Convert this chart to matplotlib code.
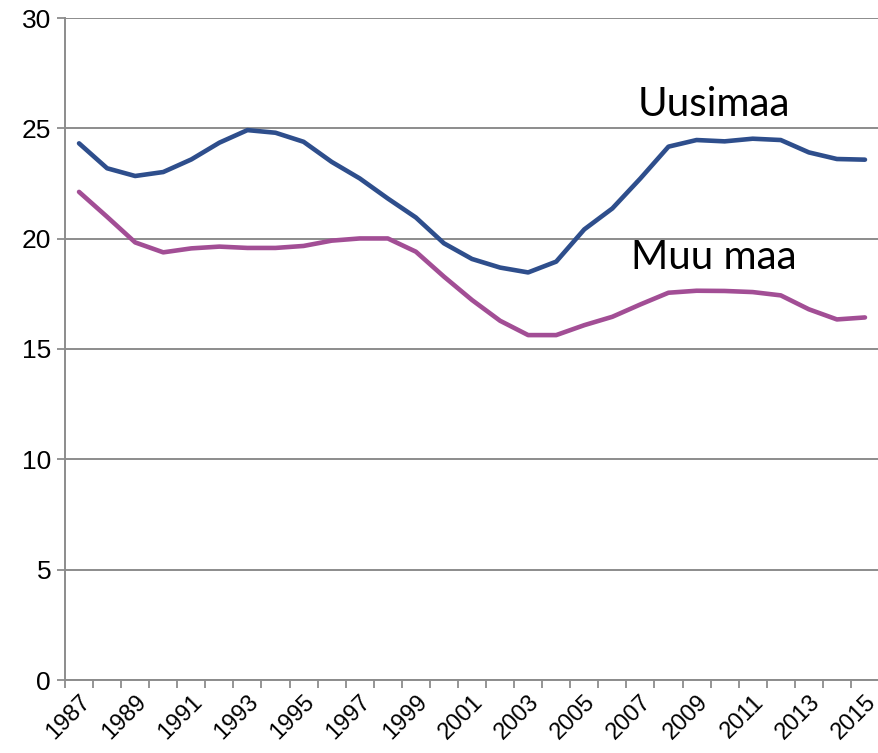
import matplotlib.pyplot as plt
import numpy as np

# ── Data ─────────────────────────────────────────────────────────
years = list(range(1987, 2016))
uusimaa = [24.32, 23.19, 22.84, 23.02, 23.59, 24.35, 24.92, 24.80, 24.39, 23.48,
           22.73, 21.82, 20.96, 19.79, 19.08, 18.69, 18.47, 18.96, 20.42, 21.37,
           22.73, 24.17, 24.47, 24.41, 24.53, 24.47, 23.91, 23.61, 23.58]
muu_maa = [22.12, 20.99, 19.83, 19.38, 19.56, 19.64, 19.58, 19.58, 19.67, 19.91,
           20.01, 20.01, 19.41, 18.28, 17.22, 16.28, 15.63, 15.63, 16.08, 16.46,
           17.02, 17.55, 17.64, 17.63, 17.58, 17.43, 16.80, 16.34, 16.43]
tick_labels = [str(y) for y in years[::2]]

plt.rcParams['font.family'] = ['Liberation Sans', 'DejaVu Sans']

fig = plt.figure(figsize=(8.79, 7.53), dpi=100, facecolor="white")
ax = fig.add_axes([65 / 879, 73 / 753, (879 - 65) / 879, (680 - 18) / 753])

x = np.arange(len(years))
ax.plot(x, uusimaa, color="#2E4E8C", lw=3.3, solid_capstyle="round", zorder=3)
ax.plot(x, muu_maa, color="#A24E95", lw=3.3, solid_capstyle="round", zorder=3)

ax.set_ylim(0, 30)
ax.set_xlim(-0.5, 28.4)
ax.set_yticks(range(0, 31, 5))
ax.yaxis.grid(True, color="#8C8C8C", lw=1.4)
ax.set_axisbelow(True)

# category ticks between points, labels every other year
ax.set_xticks(np.arange(-0.5, 29, 1.0), minor=False)
ax.set_xticklabels([])
ax.set_xticks(x[::2], minor=True)
ax.set_xticklabels(tick_labels, minor=True, rotation=45, ha="right",
                   va="top", rotation_mode="anchor", fontsize=17)
ax.tick_params(axis="x", which="major", length=6, width=1.3, color="#8C8C8C")
ax.tick_params(axis="x", which="minor", length=0, pad=8)
ax.tick_params(axis="y", length=6, width=1.3, color="#8C8C8C",
               labelsize=19, pad=4)

for s in ["top", "right"]:
    ax.spines[s].set_visible(False)
for s in ["left", "bottom"]:
    ax.spines[s].set_color("#8C8C8C")
    ax.spines[s].set_linewidth(1.4)

ax.text(22.6, 26.1, "Uusimaa", fontsize=29, family=["Lato", "DejaVu Sans"],
        ha="center", va="center")
ax.text(22.6, 19.15, "Muu maa", fontsize=29, family=["Lato", "DejaVu Sans"],
        ha="center", va="center")

fig.savefig("out.png", dpi=100, facecolor="white")
